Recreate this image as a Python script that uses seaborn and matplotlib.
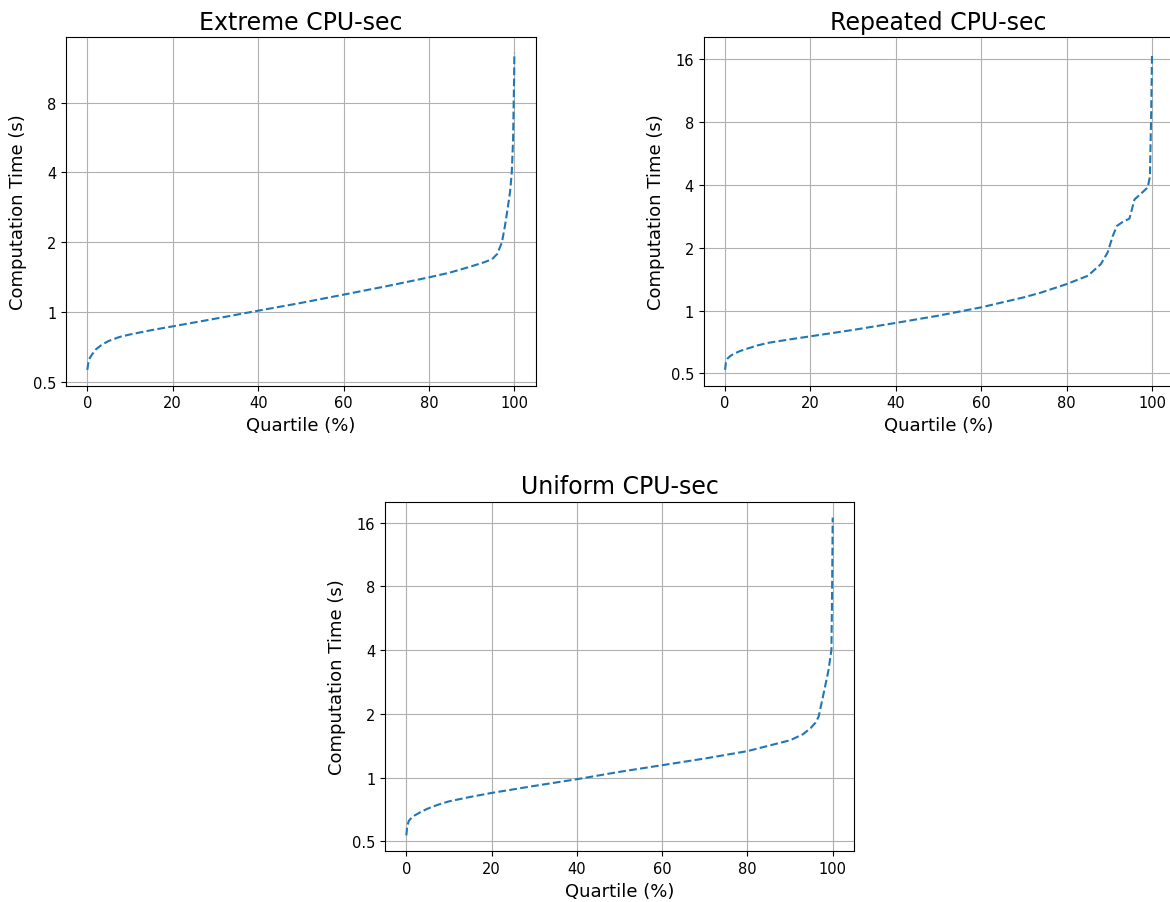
import numpy as np
import pandas as pd
import matplotlib
matplotlib.use("Agg")
import matplotlib.pyplot as plt
import matplotlib.ticker as mticker
import seaborn as sns

# Percentile positions and computation times (seconds) for each workload
extreme_pct = [0, 0.2, 0.6, 1.2, 2, 3.5, 5, 7.5, 10, 15, 20, 30, 40, 50, 60, 70, 80,
               85, 90, 93, 94.8, 96, 97.1, 97.8, 98.4, 99.0, 99.4, 99.7, 99.85, 99.95, 100]
extreme_time = [0.563, 0.60, 0.635, 0.66, 0.69, 0.725, 0.75, 0.78, 0.80, 0.835, 0.867,
                0.936, 1.013, 1.094, 1.188, 1.291, 1.41, 1.48, 1.575, 1.64, 1.69, 1.78,
                2.0, 2.35, 2.77, 3.3, 4.0, 5.5, 8.0, 10.5, 13.1]

repeated_pct = [0, 0.2, 0.6, 1.2, 2, 3.5, 5, 7.5, 10, 15, 20, 30, 40, 50, 60, 70, 74,
                80, 85, 88, 89.6, 90.8, 91.8, 93, 94.7, 95.9, 97.5, 99.0, 99.5, 99.8, 100]
repeated_time = [0.52, 0.565, 0.59, 0.605, 0.62, 0.64, 0.655, 0.68, 0.70, 0.727, 0.753,
                 0.808, 0.873, 0.946, 1.037, 1.158, 1.22, 1.34, 1.47, 1.67, 1.90, 2.28,
                 2.55, 2.65, 2.76, 3.41, 3.65, 3.90, 4.4, 8.9, 17.2]

uniform_pct = [0, 0.2, 0.6, 1.2, 2, 3.5, 5, 7.5, 10, 15, 20, 30, 40, 50, 60, 70, 80,
               90, 93, 94.8, 96, 96.7, 97.5, 98.3, 99.0, 99.7, 99.85, 100]
uniform_time = [0.533, 0.59, 0.625, 0.645, 0.663, 0.69, 0.713, 0.745, 0.772, 0.81, 0.846,
                0.913, 0.982, 1.064, 1.144, 1.23, 1.333, 1.50, 1.60, 1.71, 1.82, 1.94,
                2.3, 2.74, 3.2, 4.0, 7.0, 16.9]

titles = ["Extreme CPU-sec", "Repeated CPU-sec", "Uniform CPU-sec"]
y_ticks = [0.5, 1, 2, 4, 8, 16]

W, H = 1170, 903
fig = plt.figure(figsize=(W / 100, H / 100), dpi=100)


def box(left, top, width, height):
    return [left / W, (H - top - height) / H, width / W, height / H]


axes = [
    fig.add_axes(box(66, 38, 469.7, 348.7)),
    fig.add_axes(box(703.7, 38, 469.7, 348.7)),
    fig.add_axes(box(385, 502.7, 469.0, 349.6)),
]

series = [(extreme_pct, extreme_time), (repeated_pct, repeated_time), (uniform_pct, uniform_time)]

for ax, (pct, t), title in zip(axes, series, titles):
    df = pd.DataFrame({"Quartile (%)": pct, "Computation Time (s)": t})
    sns.lineplot(data=df, x="Quartile (%)", y="Computation Time (s)", ax=ax,
                 color="#1f77b4", linestyle="--", linewidth=1.5)
    ax.set_yscale("log", base=2)
    ax.yaxis.set_major_locator(mticker.FixedLocator(y_ticks))
    ax.yaxis.set_major_formatter(mticker.FormatStrFormatter("%g"))
    ax.yaxis.set_minor_locator(mticker.NullLocator())
    ax.set_xticks([0, 20, 40, 60, 80, 100])
    ax.grid(True, color="#b0b0b0", linewidth=0.8)
    ax.set_axisbelow(True)
    ax.tick_params(labelsize=10.5)
    ax.set_title(title, fontsize=17)
    ax.set_xlabel("Quartile (%)", fontsize=13)
    ax.set_ylabel("Computation Time (s)", fontsize=13)

fig.savefig("out.png", dpi=100)
